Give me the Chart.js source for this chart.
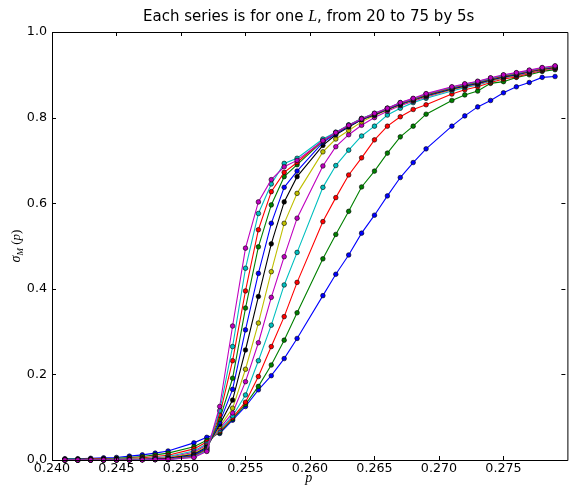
<!DOCTYPE html>
<html>
<head>
<meta charset="utf-8">
<script src="https://cdn.jsdelivr.net/npm/chart.js@4.4.0/dist/chart.umd.min.js"></script>
<style>
html, body { margin: 0; padding: 0; background: #fff; }
canvas { display: block; }
</style>
</head>
<body>
<canvas id="chart" width="570" height="488"></canvas>
<script>
// valori di p misurati (0.250, 0.260 e 0.270 mancano nei dati)
const pValues = [0.241, 0.242, 0.243, 0.244, 0.245, 0.246, 0.247, 0.248, 0.249,
  0.251, 0.252, 0.253, 0.254, 0.255, 0.256, 0.257, 0.258, 0.259,
  0.261, 0.262, 0.263, 0.264, 0.265, 0.266, 0.267, 0.268, 0.269,
  0.271, 0.272, 0.273, 0.274, 0.275, 0.276, 0.277, 0.278, 0.279];

const sizes = [20, 25, 30, 35, 40, 45, 50, 55, 60, 65, 70, 75];

// sigma_M(p), una serie per ogni L
const sigmaL20 = [0.003, 0.003, 0.004, 0.005, 0.006, 0.009, 0.012, 0.016, 0.021,
  0.040, 0.053, 0.062, 0.093, 0.125, 0.164, 0.197, 0.237, 0.284,
  0.384, 0.434, 0.479, 0.530, 0.572, 0.617, 0.660, 0.695, 0.727,
  0.780, 0.804, 0.825, 0.840, 0.858, 0.872, 0.882, 0.894, 0.896];
const sigmaL25 = [0.002, 0.002, 0.002, 0.003, 0.004, 0.006, 0.008, 0.012, 0.016,
  0.031, 0.046, 0.064, 0.096, 0.130, 0.172, 0.222, 0.280, 0.344,
  0.470, 0.527, 0.581, 0.638, 0.675, 0.717, 0.755, 0.780, 0.808,
  0.840, 0.853, 0.862, 0.880, 0.884, 0.894, 0.900, 0.908, 0.912];
const sigmaL30 = [0.001, 0.001, 0.002, 0.002, 0.002, 0.004, 0.005, 0.008, 0.011,
  0.026, 0.042, 0.067, 0.099, 0.135, 0.195, 0.265, 0.335, 0.415,
  0.557, 0.613, 0.666, 0.706, 0.748, 0.780, 0.802, 0.819, 0.830,
  0.855, 0.865, 0.872, 0.882, 0.890, 0.895, 0.903, 0.910, 0.915];
const sigmaL35 = [0.001, 0.001, 0.001, 0.001, 0.002, 0.002, 0.003, 0.005, 0.008,
  0.021, 0.038, 0.070, 0.103, 0.152, 0.232, 0.315, 0.409, 0.485,
  0.637, 0.688, 0.724, 0.757, 0.780, 0.806, 0.822, 0.835, 0.845,
  0.862, 0.870, 0.876, 0.885, 0.893, 0.898, 0.905, 0.912, 0.916];
const sigmaL40 = [0.001, 0.001, 0.001, 0.001, 0.001, 0.001, 0.002, 0.004, 0.006,
  0.018, 0.035, 0.074, 0.110, 0.183, 0.274, 0.380, 0.475, 0.565,
  0.687, 0.732, 0.760, 0.782, 0.800, 0.815, 0.828, 0.838, 0.848,
  0.865, 0.872, 0.878, 0.886, 0.893, 0.898, 0.905, 0.911, 0.915];
const sigmaL45 = [0.000, 0.000, 0.001, 0.001, 0.001, 0.001, 0.002, 0.003, 0.005,
  0.015, 0.032, 0.078, 0.121, 0.212, 0.320, 0.440, 0.553, 0.623,
  0.720, 0.750, 0.770, 0.790, 0.805, 0.818, 0.830, 0.840, 0.850,
  0.866, 0.873, 0.879, 0.887, 0.894, 0.899, 0.906, 0.912, 0.916];
const sigmaL50 = [0.000, 0.000, 0.000, 0.001, 0.001, 0.001, 0.001, 0.002, 0.004,
  0.013, 0.030, 0.083, 0.140, 0.257, 0.382, 0.505, 0.603, 0.662,
  0.735, 0.760, 0.778, 0.795, 0.806, 0.819, 0.831, 0.841, 0.851,
  0.867, 0.874, 0.880, 0.888, 0.895, 0.900, 0.907, 0.913, 0.917];
const sigmaL55 = [0.000, 0.000, 0.000, 0.000, 0.001, 0.001, 0.001, 0.002, 0.003,
  0.011, 0.028, 0.088, 0.165, 0.304, 0.436, 0.553, 0.637, 0.675,
  0.742, 0.762, 0.780, 0.796, 0.807, 0.820, 0.832, 0.842, 0.852,
  0.868, 0.875, 0.881, 0.889, 0.896, 0.901, 0.908, 0.914, 0.918];
const sigmaL60 = [0.000, 0.000, 0.000, 0.000, 0.000, 0.001, 0.001, 0.001, 0.002,
  0.009, 0.026, 0.095, 0.191, 0.355, 0.498, 0.596, 0.662, 0.690,
  0.745, 0.764, 0.781, 0.797, 0.808, 0.821, 0.833, 0.843, 0.853,
  0.869, 0.876, 0.882, 0.890, 0.897, 0.902, 0.909, 0.915, 0.919];
const sigmaL65 = [0.000, 0.000, 0.000, 0.000, 0.000, 0.000, 0.001, 0.001, 0.002,
  0.008, 0.024, 0.105, 0.232, 0.395, 0.538, 0.627, 0.672, 0.695,
  0.747, 0.765, 0.782, 0.798, 0.809, 0.821, 0.834, 0.843, 0.854,
  0.870, 0.877, 0.883, 0.891, 0.898, 0.903, 0.909, 0.915, 0.919];
const sigmaL70 = [0.000, 0.000, 0.000, 0.000, 0.000, 0.000, 0.001, 0.001, 0.001,
  0.007, 0.022, 0.115, 0.265, 0.448, 0.576, 0.645, 0.693, 0.705,
  0.750, 0.766, 0.783, 0.798, 0.810, 0.822, 0.835, 0.844, 0.855,
  0.871, 0.878, 0.884, 0.892, 0.899, 0.904, 0.910, 0.916, 0.920];
const sigmaL75 = [0.000, 0.000, 0.000, 0.000, 0.000, 0.000, 0.000, 0.001, 0.001,
  0.006, 0.020, 0.125, 0.313, 0.495, 0.603, 0.655, 0.685, 0.700,
  0.746, 0.765, 0.782, 0.797, 0.810, 0.822, 0.835, 0.845, 0.856,
  0.872, 0.879, 0.885, 0.893, 0.900, 0.905, 0.911, 0.917, 0.921];

const xTicks = [0.240, 0.245, 0.250, 0.255, 0.260, 0.265, 0.270, 0.275];
const yTicks = [0.0, 0.2, 0.4, 0.6, 0.8, 1.0];

const seriesValues = [sigmaL20, sigmaL25, sigmaL30, sigmaL35, sigmaL40, sigmaL45,
  sigmaL50, sigmaL55, sigmaL60, sigmaL65, sigmaL70, sigmaL75];

// ciclo colori classico di matplotlib: b g r c m y k
const colorCycle = ['#0000ff', '#008000', '#ff0000', '#00bfbf', '#bf00bf', '#bfbf00', '#000000'];

const tickFont = { family: 'DejaVu Sans', size: 12.7 };

const datasets = sizes.map((L, i) => ({
  label: 'L = ' + L,
  data: pValues.map((p, j) => ({ x: p, y: seriesValues[i][j] })),
  borderColor: colorCycle[i % 7],
  backgroundColor: colorCycle[i % 7],
  pointBackgroundColor: colorCycle[i % 7],
  pointBorderColor: '#000000',
  pointBorderWidth: 0.6,
  pointRadius: 2.3,
  borderWidth: 1.1,
  tension: 0,
  clip: 6,
  order: sizes.length - 1 - i   // L piu' grande disegnato sopra
}));

// cornice, tacche interne e testi con parti in corsivo
const framePlugin = {
  id: 'frame',
  afterDraw(chart) {
    const ctx = chart.ctx;
    const area = chart.chartArea;
    const xs = chart.scales.x;
    const ys = chart.scales.y;
    ctx.save();
    ctx.strokeStyle = '#000';
    ctx.lineWidth = 1;
    ctx.beginPath();
    ctx.rect(area.left + 0.5, area.top + 0.5, area.right - area.left + 2, area.bottom - area.top);
    for (const v of xTicks) {
      const px = Math.round(xs.getPixelForValue(v)) + 0.5;
      ctx.moveTo(px, area.bottom); ctx.lineTo(px, area.bottom - 4);
      ctx.moveTo(px, area.top); ctx.lineTo(px, area.top + 4);
    }
    for (const v of yTicks) {
      const py = Math.round(ys.getPixelForValue(v)) + 0.5;
      ctx.moveTo(area.left, py); ctx.lineTo(area.left + 4, py);
      ctx.moveTo(area.right, py); ctx.lineTo(area.right - 4, py);
    }
    ctx.stroke();

    ctx.fillStyle = '#000';
    ctx.textBaseline = 'alphabetic';

    // titolo
    const parts = [
      { t: 'Each series is for one ', f: '15px "DejaVu Sans"' },
      { t: 'L', f: 'italic 16px "Liberation Serif"' },
      { t: ', from 20 to 75 by 5s', f: '15px "DejaVu Sans"' }
    ];
    let total = 0;
    for (const p of parts) { ctx.font = p.f; p.w = ctx.measureText(p.t).width; total += p.w; }
    let x = (area.left + area.right) / 2 - total / 2;
    for (const p of parts) { ctx.font = p.f; ctx.fillText(p.t, x, 21); x += p.w; }

    // etichetta asse x
    ctx.font = 'italic 14px "Liberation Serif"';
    ctx.textAlign = 'center';
    ctx.fillText('p', (area.left + area.right) / 2, 482);

    // etichetta asse y: sigma_M (p)
    ctx.textAlign = 'left';
    ctx.translate(20, (area.top + area.bottom) / 2);
    ctx.rotate(-Math.PI / 2);
    const yparts = [
      { t: '\u03c3', f: 'italic 14px "Liberation Serif"', dy: 0 },
      { t: 'M', f: 'italic 9px "Liberation Serif"', dy: 3 },
      { t: ' (', f: '13px "Liberation Serif"', dy: 0 },
      { t: 'p', f: 'italic 13px "Liberation Serif"', dy: 0 },
      { t: ')', f: '13px "Liberation Serif"', dy: 0 }
    ];
    total = 0;
    for (const p of yparts) { ctx.font = p.f; p.w = ctx.measureText(p.t).width; total += p.w; }
    x = -total / 2;
    for (const p of yparts) { ctx.font = p.f; ctx.fillText(p.t, x, p.dy); x += p.w; }
    ctx.restore();
  }
};

new Chart(document.getElementById('chart'), {
  type: 'line',
  data: { datasets: datasets },
  options: {
    responsive: false,
    animation: false,
    events: [],
    layout: { padding: { top: 32, right: 0, left: 0, bottom: 0 } },
    plugins: {
      legend: { display: false },
      title: { display: false },
      tooltip: { enabled: false }
    },
    scales: {
      x: {
        type: 'linear',
        min: 0.240,
        max: 0.2798,
        grid: { display: false, drawTicks: false },
        border: { display: false },
        afterBuildTicks: s => { s.ticks = xTicks.map(v => ({ value: v })); },
        afterFit: s => { s.height = 28; },
        ticks: {
          color: '#000',
          font: tickFont,
          padding: 1,
          autoSkip: false,
          maxRotation: 0,
          callback: v => v.toFixed(3)
        }
      },
      y: {
        type: 'linear',
        min: 0,
        max: 1,
        grid: { display: false, drawTicks: false },
        border: { display: false },
        afterBuildTicks: s => { s.ticks = yTicks.map(v => ({ value: v })); },
        afterFit: s => { s.width = 52; },
        ticks: {
          color: '#000',
          font: tickFont,
          padding: 5,
          callback: v => v.toFixed(1)
        }
      }
    }
  },
  plugins: [framePlugin]
});
</script>
</body>
</html>
